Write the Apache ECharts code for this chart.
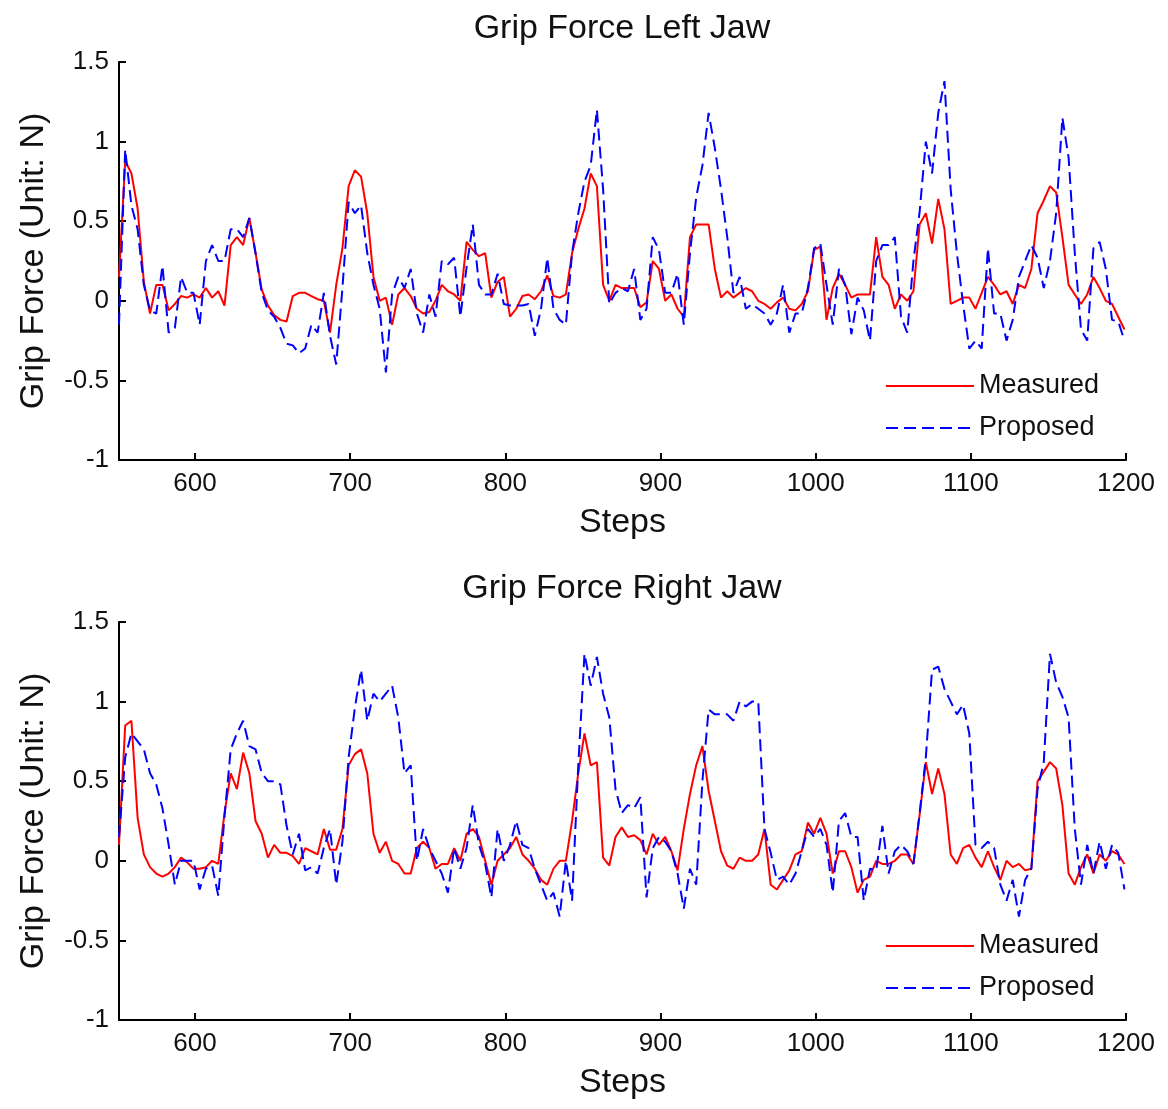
<!DOCTYPE html>
<html>
<head>
<meta charset="utf-8">
<title>Grip Force</title>
<script src="https://cdn.jsdelivr.net/npm/echarts@6.0.0/dist/echarts.min.js"></script>
<style>
  html, body { margin: 0; padding: 0; background: #fff; }
  #chart { width: 1168px; height: 1109px; }
</style>
</head>
<body>
<div id="chart"></div>
<script>
// steps: first sample at 551, one sample every 4 steps (551 ... 1199)
var STEP_START = 551;
var STEP_GAP = 4;
var X_TICKS = [600, 700, 800, 900, 1000, 1100, 1200];
var SERIES_NAMES = ['Measured', 'Proposed'];
var TITLES = ['Grip Force Left Jaw', 'Grip Force Right Jaw'];

// left jaw, measured (red)
var leftMeasured = [
  0.15, 0.88, 0.8, 0.58, 0.12, -0.08, 0.1, 0.1, -0.06, -0.02,
  0.03, 0.02, 0.04, 0.02, 0.08, 0.02, 0.06, -0.03, 0.35, 0.4,
  0.35, 0.52, 0.3, 0.07, -0.03, -0.09, -0.12, -0.13, 0.03, 0.05,
  0.05, 0.03, 0.01, 0.0, -0.2, 0.1, 0.33, 0.72, 0.82, 0.78,
  0.55, 0.15, 0.0, 0.02, -0.15, 0.04, 0.08, 0.03, -0.05, -0.08,
  -0.07, 0.0, 0.1, 0.06, 0.04, 0.0, 0.37, 0.32, 0.28, 0.3,
  0.02, 0.12, 0.15, -0.1, -0.05, 0.03, 0.04, 0.01, 0.06, 0.16,
  0.03, 0.02, 0.04, 0.3, 0.45, 0.58, 0.8, 0.72, 0.1, 0.0,
  0.1, 0.08, 0.08, 0.08, -0.04, -0.01, 0.25, 0.2, 0.0, 0.04,
  -0.05, -0.1, 0.4, 0.48, 0.48, 0.48, 0.2, 0.02, 0.06, 0.02,
  0.05, 0.08, 0.06, 0.0, -0.02, -0.05, -0.01, 0.02, -0.05, -0.06,
  -0.02, 0.06, 0.32, 0.34, -0.12, 0.08, 0.17, 0.1, 0.02, 0.04,
  0.04, 0.04, 0.4, 0.15, 0.1, -0.05, 0.04, 0.0, 0.06, 0.48,
  0.55, 0.36, 0.64, 0.45, -0.02, 0.0, 0.02, 0.02, -0.05, 0.05,
  0.15, 0.1, 0.04, 0.06, -0.02, 0.1, 0.08, 0.2, 0.55, 0.63,
  0.72, 0.68, 0.4, 0.1, 0.04, -0.02, 0.04, 0.15, 0.08, 0.0,
  -0.02, -0.1, -0.18
];
// left jaw, proposed (blue dashed)
var leftProposed = [
  -0.15, 0.95, 0.6, 0.45, 0.1, -0.06, -0.08, 0.22, -0.2, -0.17,
  0.15, 0.05, 0.05, -0.15, 0.25, 0.35, 0.25, 0.25, 0.45, 0.45,
  0.4, 0.52, 0.3, 0.05, -0.06, -0.1, -0.17, -0.27, -0.28, -0.33,
  -0.3, -0.15, -0.2, 0.05, -0.22, -0.4, 0.08, 0.62, 0.55, 0.6,
  0.3, 0.1, -0.05, -0.45, 0.04, 0.15, 0.08, 0.2, -0.08, -0.2,
  0.04, -0.1, 0.25, 0.23, 0.27, -0.1, 0.21, 0.48, 0.1, 0.04,
  0.04, 0.17, -0.02, -0.03, -0.03, -0.03, -0.02, -0.22, -0.05, 0.27,
  -0.05, -0.12, -0.15, 0.3, 0.55, 0.75, 0.85, 1.2, 0.7, -0.02,
  0.05, 0.08, 0.06, 0.2, -0.12, -0.05, 0.4, 0.32, 0.05, 0.05,
  0.17, -0.15, 0.3, 0.65, 0.85, 1.18, 0.96, 0.7, 0.4, 0.05,
  0.15, -0.05, -0.02, -0.05, -0.08, -0.15, -0.08, 0.1, -0.2, -0.08,
  -0.08, 0.08, 0.33, 0.36, 0.1, -0.15, 0.2, 0.1, -0.21, 0.02,
  -0.06, -0.25, 0.25, 0.35, 0.35, 0.4, -0.1, -0.2, 0.25, 0.56,
  1.0, 0.8, 1.18, 1.38, 0.7, 0.3, -0.02, -0.3, -0.25, -0.3,
  0.33, -0.08, -0.08, -0.25, -0.12, 0.15, 0.25, 0.35, 0.27, 0.08,
  0.25, 0.55, 1.15, 0.9, 0.3, -0.18, -0.25, 0.33, 0.37, 0.2,
  -0.12, -0.13, -0.25
];
// right jaw, measured (red)
var rightMeasured = [
  0.1, 0.85, 0.88, 0.27, 0.04, -0.04, -0.08, -0.1, -0.08, -0.04,
  0.02, -0.01, -0.05, -0.05, -0.04, 0.0, -0.02, 0.3, 0.55, 0.45,
  0.68, 0.55, 0.25, 0.17, 0.02, 0.1, 0.05, 0.05, 0.03, -0.02,
  0.08, 0.06, 0.04, 0.2, 0.07, 0.07, 0.2, 0.6, 0.67, 0.7,
  0.55, 0.17, 0.05, 0.12, 0.0, -0.02, -0.08, -0.08, 0.08, 0.12,
  0.08, -0.05, -0.02, -0.02, 0.08, 0.0, 0.17, 0.2, 0.15, 0.0,
  -0.15, 0.0, 0.04, 0.08, 0.15, 0.04, 0.0, -0.05, -0.12, -0.15,
  -0.05, 0.0, 0.0, 0.25, 0.55, 0.8, 0.6, 0.62, 0.02, -0.03,
  0.15, 0.21, 0.15, 0.16, 0.13, 0.04, 0.17, 0.1, 0.15, 0.06,
  -0.06, 0.2, 0.42, 0.6, 0.72, 0.44, 0.25, 0.06, -0.03, -0.05,
  0.02, 0.0, 0.0, 0.04, 0.2, -0.15, -0.18, -0.12, -0.06, 0.04,
  0.06, 0.24, 0.17, 0.27, 0.17, -0.08, 0.06, 0.06, -0.04, -0.2,
  -0.12, -0.1, 0.0, -0.02, -0.02, 0.0, 0.04, 0.04, -0.02, 0.29,
  0.62, 0.42, 0.58, 0.42, 0.04, -0.02, 0.08, 0.1, 0.02, -0.04,
  0.06, -0.04, -0.12, 0.0, -0.04, -0.02, -0.06, -0.05, 0.5, 0.56,
  0.62, 0.58, 0.35, -0.08, -0.15, -0.04, 0.04, -0.08, 0.04, 0.0,
  0.06, 0.04, -0.02
];
// right jaw, proposed (blue dashed)
var rightProposed = [
  0.15, 0.65, 0.8, 0.75, 0.7, 0.55, 0.48, 0.33, 0.1, -0.15,
  0.0, 0.0, 0.0, -0.18, -0.05, -0.03, -0.22, 0.28, 0.7, 0.8,
  0.88, 0.72, 0.7, 0.55, 0.5, 0.5, 0.48, 0.22, 0.04, 0.17,
  -0.06, -0.04, -0.08, 0.08, 0.2, -0.15, 0.12, 0.65, 0.96, 1.2,
  0.88, 1.05, 1.0, 1.05, 1.1, 0.9, 0.55, 0.6, 0.0, 0.2,
  0.08, 0.0, -0.08, -0.2, 0.08, -0.05, 0.08, 0.35, 0.1, -0.02,
  -0.23, 0.2, 0.0, 0.1, 0.25, 0.1, 0.08, -0.05, -0.15, -0.25,
  -0.2, -0.35, 0.0, -0.25, 0.6, 1.3, 1.1, 1.28, 1.05, 0.9,
  0.45, 0.3, 0.35, 0.33, 0.4, -0.23, 0.08, 0.15, 0.12, 0.06,
  -0.08, -0.3, -0.05, -0.15, 0.5, 0.95, 0.92, 0.92, 0.92, 0.88,
  1.0, 0.97, 1.0, 1.0, 0.2, 0.05, -0.12, -0.1, -0.15, -0.08,
  0.06, 0.2, 0.15, 0.2, 0.1, -0.2, 0.25, 0.3, 0.15, 0.15,
  -0.25, -0.05, -0.06, 0.22, -0.08, 0.06, 0.1, 0.06, -0.02, 0.3,
  0.65, 1.2, 1.22, 1.08, 1.0, 0.92, 0.98, 0.8, 0.1, 0.08,
  0.12, 0.08, -0.15, -0.25, -0.12, -0.35, -0.12, -0.05, 0.45, 0.62,
  1.3, 1.12, 1.03, 0.9, 0.2, -0.15, 0.1, -0.08, 0.12, -0.05,
  0.1, 0.05, -0.18
];

var FONT = "'Liberation Sans', Arial, sans-serif";
var GRID_TOPS = [62, 622];

function toPairs(values) {
    var out = [];
    for (var i = 0; i < values.length; i++) {
        out.push([STEP_START + i * STEP_GAP, values[i]]);
    }
    return out;
}

function makeX(idx) {
    return {
        type: 'value', gridIndex: idx, min: STEP_START, max: 1200,
        name: 'Steps', nameLocation: 'middle', nameGap: 46,
        nameTextStyle: { fontSize: 34, color: '#111', fontFamily: FONT },
        axisLine: { show: true, onZero: false, lineStyle: { color: '#000', width: 2 } },
        axisTick: { show: true, inside: true, length: 7, customValues: X_TICKS, lineStyle: { color: '#000', width: 2 } },
        axisLabel: {
            customValues: X_TICKS, fontSize: 26, color: '#111', margin: 11, fontFamily: FONT,
            formatter: function(v) { return String(v); }
        },
        splitLine: { show: false }
    };
}

function makeY(idx) {
    return {
        type: 'value', gridIndex: idx, min: -1, max: 1.5, interval: 0.5,
        name: 'Grip Force (Unit: N)', nameLocation: 'middle', nameGap: 68,
        nameTextStyle: { fontSize: 34, color: '#111', fontFamily: FONT },
        axisLine: { show: true, lineStyle: { color: '#000', width: 2 } },
        axisTick: { show: true, inside: true, length: 7, lineStyle: { color: '#000', width: 2 } },
        axisLabel: { fontSize: 26, color: '#111', margin: 10, fontFamily: FONT },
        splitLine: { show: false }
    };
}

function makeSeries(idx, measured, proposed) {
    return [{
        name: SERIES_NAMES[0], type: 'line', xAxisIndex: idx, yAxisIndex: idx,
        data: toPairs(measured), showSymbol: false, symbol: 'none',
        lineStyle: { color: '#ff0000', width: 2 }, itemStyle: { color: '#ff0000' }
    }, {
        name: SERIES_NAMES[1], type: 'line', xAxisIndex: idx, yAxisIndex: idx,
        data: toPairs(proposed), showSymbol: false, symbol: 'none',
        lineStyle: { color: '#0000ff', width: 2, type: [12, 6] }, itemStyle: { color: '#0000ff' }
    }];
}

function makeLegend(top) {
    return {
        data: SERIES_NAMES, orient: 'vertical', left: 880, top: top,
        itemWidth: 88, itemHeight: 14, itemGap: 12,
        itemStyle: { opacity: 0 },
        textStyle: { fontSize: 27, color: '#111', fontFamily: FONT, lineHeight: 30 }
    };
}

var chart = echarts.init(document.getElementById('chart'), null, { renderer: 'canvas' });
var option = {
    animation: false,
    backgroundColor: '#fff',
    title: [0, 1].map(function(i) {
        return {
            text: TITLES[i], left: 617, top: GRID_TOPS[i] - 55, textAlign: 'center',
            textStyle: { fontSize: 34, fontWeight: 'normal', color: '#111', fontFamily: FONT }
        };
    }),
    legend: [makeLegend(366), makeLegend(926)],
    grid: GRID_TOPS.map(function(t) {
        return { left: 119, top: t, width: 1007, height: 398, containLabel: false };
    }),
    xAxis: [makeX(0), makeX(1)],
    yAxis: [makeY(0), makeY(1)],
    series: makeSeries(0, leftMeasured, leftProposed).concat(makeSeries(1, rightMeasured, rightProposed))
};
chart.setOption(option);
</script>
</body>
</html>
